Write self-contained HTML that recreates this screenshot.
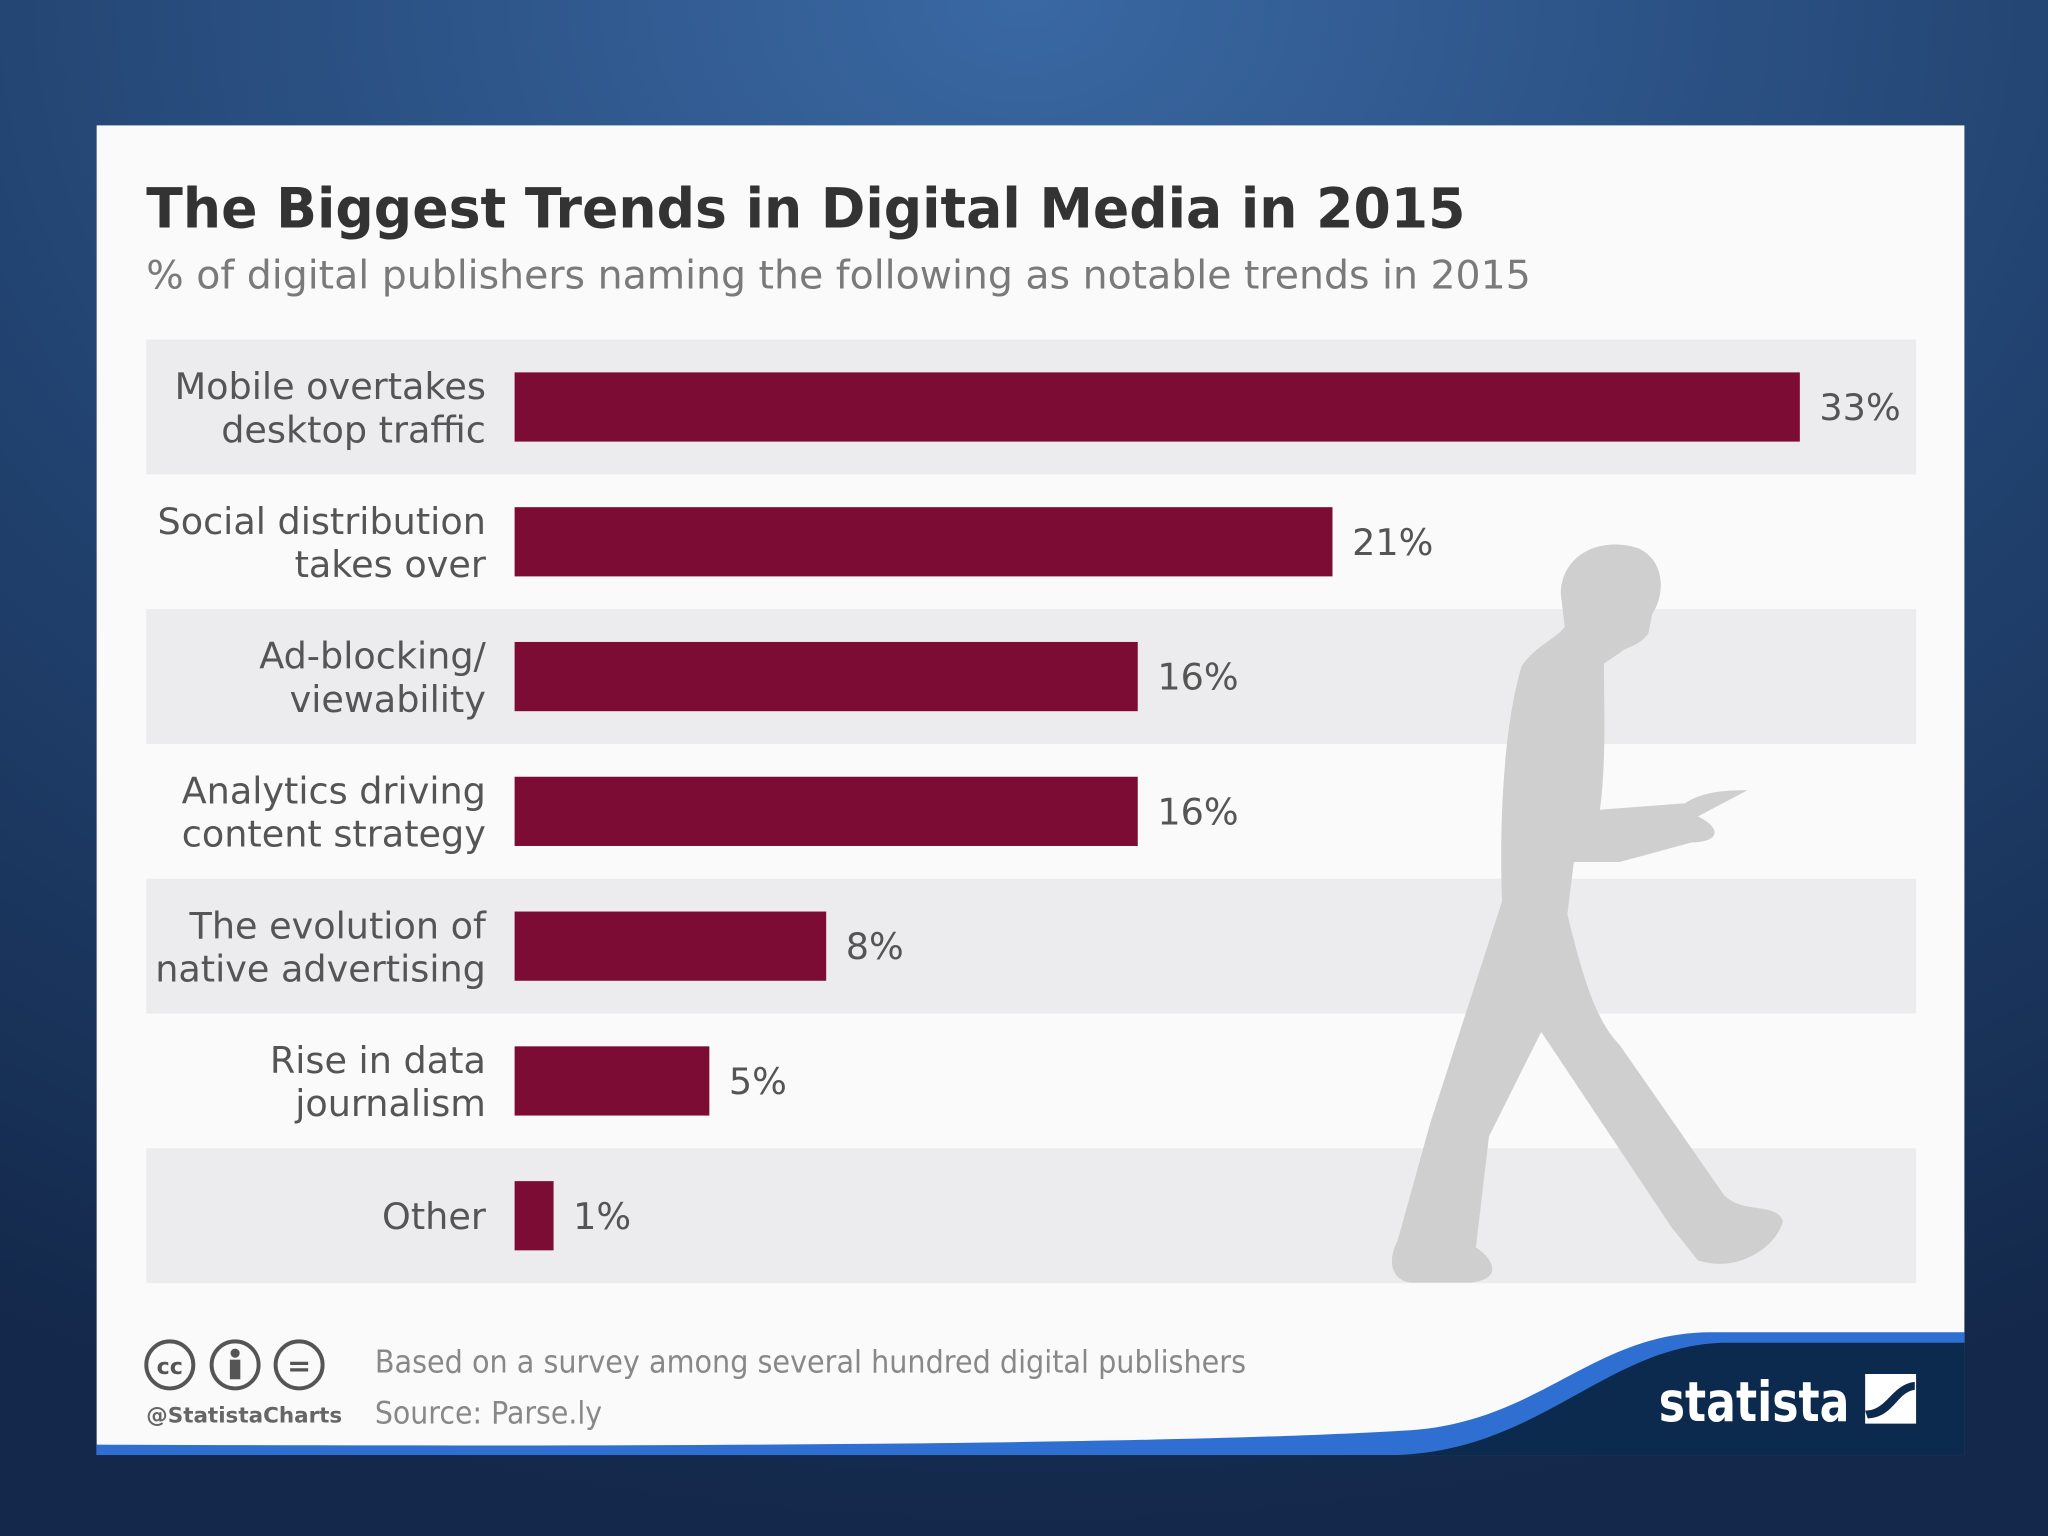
<!DOCTYPE html>
<html><head><meta charset="utf-8"><style>
html,body{margin:0;padding:0;width:2048px;height:1536px;overflow:hidden;background:#1f3d66}
svg{display:block}
text{font-family:"DejaVu Sans","Liberation Sans",sans-serif}
</style></head><body>
<svg id="chart" width="2048" height="1536" viewBox="0 0 1568 1176" xmlns="http://www.w3.org/2000/svg">
<defs>
<radialGradient id="bg" cx="0.5" cy="0" r="1">
<stop offset="0" stop-color="#3a68a3"/><stop offset="0.55" stop-color="#21426f"/><stop offset="1" stop-color="#13284a"/>
</radialGradient>
</defs>
<rect x="0" y="0" width="1568" height="1176" fill="url(#bg)"/>
<rect x="74" y="96" width="1430" height="1018" fill="#fafafb"/>
<text x="112" y="174" font-size="42" font-weight="bold" fill="#333" textLength="1010" lengthAdjust="spacingAndGlyphs">The Biggest Trends in Digital Media in 2015</text>
<text x="112" y="221" font-size="30" fill="#7a7a7a" textLength="1060" lengthAdjust="spacingAndGlyphs">% of digital publishers naming the following as notable trends in 2015</text>
<g id="bands"></g>
<path fill="#cfcfcf" d="M1195 455 C1195 425 1225 410 1255 420 C1275 430 1275 455 1265 470 L1262 485 C1255 495 1245 495 1240 500 L1228 508 C1228 540 1230 580 1225 620 L1290 615 C1305 605 1325 605 1338 605 L1300 625 C1320 635 1315 645 1295 645 L1240 660 L1205 660 L1200 700 C1210 740 1220 780 1240 800 L1320 915 C1335 930 1360 920 1365 935 C1360 955 1330 975 1300 965 L1280 940 L1180 790 L1140 870 L1130 955 C1145 965 1150 980 1125 982 L1080 982 C1065 980 1062 965 1070 950 L1095 860 L1150 690 C1148 640 1150 560 1165 510 C1175 495 1190 490 1198 480 Z"/>
<g id="bars"></g>
<g fill="none" stroke="#555" stroke-width="3">
<circle cx="130" cy="1045" r="18"/><circle cx="180" cy="1045" r="18"/><circle cx="229" cy="1045" r="18"/>
</g>
<text x="130" y="1052" font-size="17" font-weight="bold" fill="#555" text-anchor="middle">cc</text>
<text x="229" y="1053" font-size="22" font-weight="bold" fill="#555" text-anchor="middle">=</text>
<circle cx="180" cy="1036" r="3.5" fill="#555"/>
<rect x="176" y="1041" width="8" height="15" fill="#555"/>
<text x="112" y="1089" font-size="16" font-weight="bold" fill="#666" textLength="150" lengthAdjust="spacingAndGlyphs">@StatistaCharts</text>
<text x="287" y="1051" font-size="24" fill="#888" textLength="667" lengthAdjust="spacingAndGlyphs">Based on a survey among several hundred digital publishers</text>
<text x="287" y="1090" font-size="24" fill="#888" textLength="174" lengthAdjust="spacingAndGlyphs">Source: Parse.ly</text>
<path fill="#2f6fd1" d="M74 1106 C500 1108 900 1106 1080 1095 C1180 1088 1220 1020 1310 1020 L1504 1020 L1504 1114 L74 1114 Z"/>
<path fill="#0b2a4d" d="M1070 1114 C1180 1110 1230 1030 1320 1028 L1504 1028 L1504 1114 Z"/>
<text x="1270" y="1088" font-size="42" font-weight="bold" fill="#fff" textLength="146" lengthAdjust="spacingAndGlyphs">statista</text>
<path fill="#fff" d="M1428 1052 L1467 1052 L1467 1090 L1428 1090 Z"/>
<path fill="#0b2a4d" d="M1428 1080 C1445 1080 1448 1060 1466 1058 L1466 1064 C1452 1066 1450 1085 1430 1086 Z"/>
</svg>
<script>
const categories = [["Mobile overtakes","desktop traffic"],["Social distribution","takes over"],["Ad-blocking/","viewability"],["Analytics driving","content strategy"],["The evolution of","native advertising"],["Rise in data","journalism"],["Other"]];
const values = [33,21,16,16,8,5,1];
const valueLabels = ["33%","21%","16%","16%","8%","5%","1%"];
const SVGNS="http://www.w3.org/2000/svg";
const barX0=394, pxPer=(1378-394)/33, plotTop=260, rowH=103.2, barH=53;
const xs=v=>barX0+v*pxPer, ys=i=>plotTop+i*rowH;
const bandsG=document.getElementById('bands'), barsG=document.getElementById('bars');
function mk(tag,attrs,parent){const e=document.createElementNS(SVGNS,tag);for(const k in attrs)e.setAttribute(k,attrs[k]);parent.appendChild(e);return e;}
categories.forEach((c,i)=>{
  if(i%2===0){const b=mk('rect',{x:112,y:ys(i),width:1355,height:rowH,fill:'#ececee'},bandsG);
    
    }
  const cy=ys(i)+rowH/2;
  const r=mk('rect',{x:barX0,y:cy-barH/2,width:xs(values[i])-barX0,height:barH,fill:'#7d0c35'},barsG);
  
  
  const t=mk('text',{x:xs(values[i])+15,y:cy+10,'font-size':28,fill:'#555'},barsG);
  t.textContent=valueLabels[i];
  
  
  c.forEach((line,j)=>{
    const off=c.length===1?10:(j===0?-6:27);
    const l=mk('text',{x:372,y:cy+off,'font-size':28,fill:'#555','text-anchor':'end'},barsG);
    l.textContent=line;
    
    
  });
});
</script>
</body></html>
